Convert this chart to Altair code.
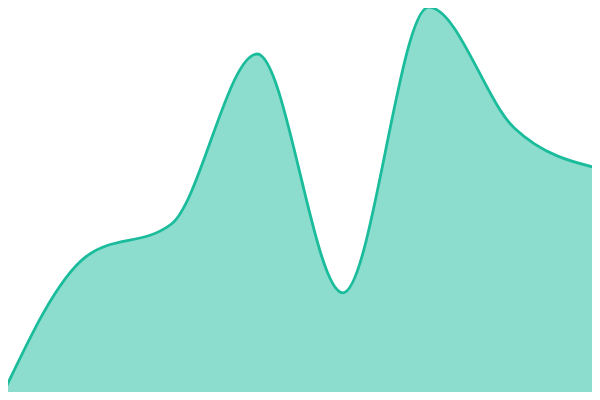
import altair as alt
import pandas as pd

# Data (8 evenly spaced points)
idx = [0, 1, 2, 3, 4, 5, 6, 7]
values = [0, 35.8, 44.0, 86.5, 26.8, 98.2, 68.0, 57.8]

df = pd.DataFrame({"i": idx, "v": values})

LINE = "#1abc9c"

# reference pixel geometry: X = i*85.714, Y = 400 - 4*v ; svg placed at (8,8)
W, H = 584, 384
x = alt.X("i:Q", axis=None,
          scale=alt.Scale(domain=[8 / 85.714, (8 + W) / 85.714], nice=False, zero=False))
y = alt.Y("v:Q", axis=None,
          scale=alt.Scale(domain=[(400 - 8 - H) / 4, 98], nice=False, zero=False))

base = alt.Chart(df).encode(x=x, y=y)

area = base.mark_area(interpolate="monotone", color=LINE, opacity=0.5, clip=True)
line = base.mark_line(interpolate="monotone", color=LINE, strokeWidth=2.8, clip=True)

chart = (
    alt.layer(area, line)
    .properties(width=W, height=H, padding=0, autosize="none", background="white")
    .configure_view(stroke=None)
)

chart.save("out.html", embed_options={"renderer": "svg", "actions": False})
